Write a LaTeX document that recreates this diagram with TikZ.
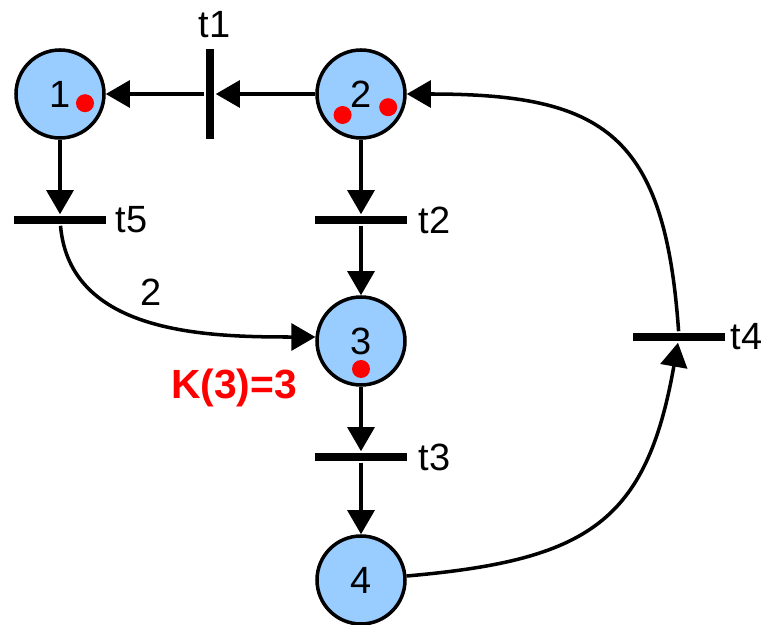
\documentclass[tikz,border=0pt]{standalone}
\usepackage{fontspec}
\setmainfont{Liberation Sans}
\usepackage{xcolor}
\usepackage{tikz}
\usetikzlibrary{arrows.meta,positioning}

\definecolor{placeblue}{RGB}{153,204,255}

\begin{document}
\begin{tikzpicture}[
		>={Triangle[length=0.6cm, width=0.67cm]},
		font=\fontsize{27pt}{32pt}\selectfont,
		line width=2.5pt,
		on grid,
		place/.style={circle, draw, line width=2.5pt, fill=placeblue, minimum size=2.2cm, inner sep=0pt},
		hbar/.style={fill=black, minimum width=2.3cm, minimum height=0.2cm, inner sep=0pt},
		vbar/.style={fill=black, minimum width=0.2cm, minimum height=2.25cm, inner sep=0pt},
		token/.style={circle, fill=red, minimum size=0.45cm, inner sep=0pt},
		tlab/.style={inner sep=0pt}
		]
		
		\useasboundingbox (0,0) rectangle (19.125,-15.625);
		
		% Places
		\node[place] (p1) at (1.5,-2.35) {1};
		\node[vbar, right=3.75cm of p1, label={[tlab, label distance=0.2cm, xshift=0.12cm]above:t1}] (t1) {};
		\node[place, right=3.775cm of t1] (p2) {2};
		\node[hbar, below=3.15cm of p1, label={[tlab, label distance=0.15cm]right:t5}] (t5) {};
		\node[hbar, below=3.15cm of p2, label={[tlab, label distance=0.2cm]right:t2}] (t2) {};
		\node[place, below=3.025cm of t2] (p3) {3};
		\node[hbar, below=2.9cm of p3, label={[tlab, label distance=0.2cm]right:t3}] (t3) {};
		\node[place, below=3.075cm of t3] (p4) {4};
		\node[hbar, above right=0.1cm and 7.95cm of p3, label={[tlab, label distance=0.05cm]right:t4}] (t4) {};
		
		% Capacity of place 3
		\node[text=red, font=\fontsize{29pt}{34pt}\selectfont\bfseries, below left=1.175cm and 3.175cm of p3] (cap3) {K(3)=3};
		
		% Tokens
		\node[token] (tok1) at ([shift={(0.625,-0.23)}]p1.center) {};
		\node[token] (tok2a) at ([shift={(-0.46,-0.525)}]p2.center) {};
		\node[token] (tok2b) at ([shift={(0.68,-0.33)}]p2.center) {};
		\node[token] (tok3) at ([shift={(0,-0.7)}]p3.center) {};
		
		% Arcs
		\draw[->] (p2) -- (t1);
		\draw[->] (t1) -- (p1);
		\draw[->] (p1) -- (t5);
		\draw[->] (t5) to[out=-85, in=180] node[midway, above=0.375cm, inner sep=0pt] {2} (p3.175);
		\draw[->] (p2) -- (t2);
		\draw[->] (t2) -- (p3);
		\draw[->] (p3) -- (t3);
		\draw[->] (t3) -- (p4);
		\draw[->] (p4) to[out=5, in=-100, looseness=1.3] (t4);
		\draw[->] (t4) to[out=94, in=0, looseness=1.4] (p2);
		
	\end{tikzpicture}
\end{document}
